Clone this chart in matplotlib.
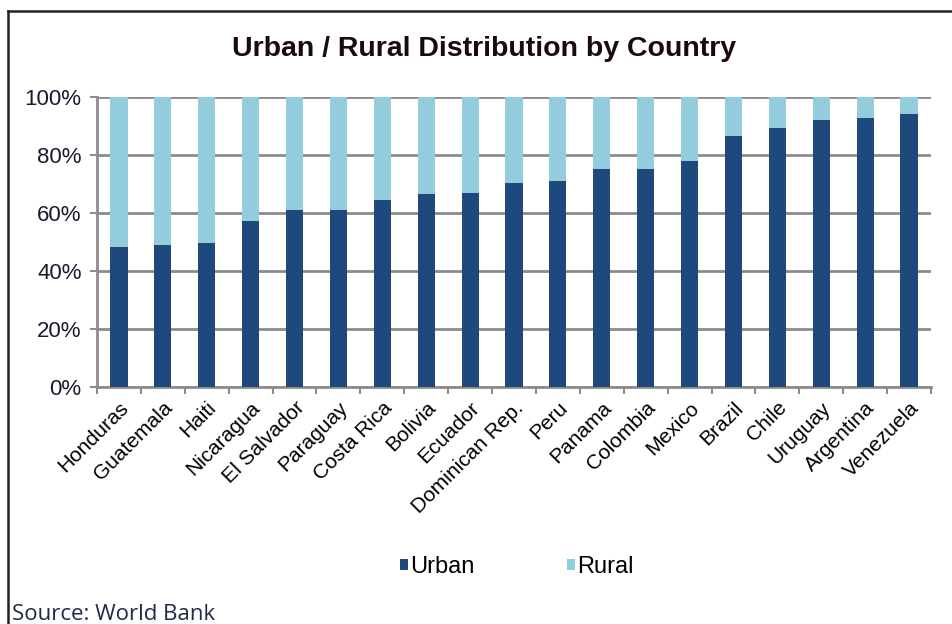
import matplotlib
matplotlib.use("Agg")
from matplotlib import pyplot as plt
from matplotlib.lines import Line2D
import numpy as np

# data (share of population, %)
countries = ["Honduras", "Guatemala", "Haiti", "Nicaragua", "El Salvador",
             "Paraguay", "Costa Rica", "Bolivia", "Ecuador", "Dominican Rep.",
             "Peru", "Panama", "Colombia", "Mexico", "Brazil", "Chile",
             "Uruguay", "Argentina", "Venezuela"]
urban = [48.4, 49.1, 49.7, 57.1, 61.0, 61.0, 64.4, 66.5, 67.0, 70.5,
         71.2, 75.1, 75.1, 77.9, 86.4, 89.3, 91.9, 92.6, 94.0]
rural = [100 - u for u in urban]

yticks = [0, 20, 40, 60, 80, 100]
ytick_labels = ["0%", "20%", "40%", "60%", "80%", "100%"]

URBAN_C = "#1F497D"
RURAL_C = "#93CDDD"
GRID_C = "#8C8C8C"

plt.rcParams['font.family'] = ['Liberation Sans', 'DejaVu Sans']

fig = plt.figure(figsize=(9.53, 6.24), dpi=100)
W, H = 953, 624

# plot area in pixels: left 97, right 931, top 97, bottom 387
ax = fig.add_axes([97 / W, 1 - 387 / H, (931 - 97) / W, (387 - 97) / H])

x = np.arange(len(countries))
ax.bar(x, urban, width=0.39, color=URBAN_C, label="Urban", zorder=3)
ax.bar(x, rural, width=0.39, bottom=urban, color=RURAL_C, label="Rural", zorder=3)

ax.set_xlim(-0.5, len(countries) - 0.5)
ax.set_ylim(0, 100)
ax.set_yticks(yticks)
ax.set_yticklabels(ytick_labels, fontsize=16, color="#1a1a2e")
ax.yaxis.grid(True, color=GRID_C, linewidth=2, zorder=0)
ax.set_axisbelow(True)

# category labels sit between boundary tick marks
ax.set_xticks(x)
ax.set_xticklabels(countries, rotation=45, ha="right", rotation_mode="anchor",
                   fontsize=15)
ax.tick_params(axis="x", length=0, pad=8)
ax.set_xticks(np.arange(-0.5, len(countries)), minor=True)
ax.tick_params(axis="x", which="minor", length=5, width=1.5, color=GRID_C)
ax.tick_params(axis="y", length=5, width=1.5, color=GRID_C, pad=6)

for s in ["top", "right"]:
    ax.spines[s].set_visible(False)
for s in ["left", "bottom"]:
    ax.spines[s].set_color(GRID_C)
    ax.spines[s].set_linewidth(2)

fig.text(484 / W, 1 - 49 / H, "Urban / Rural Distribution by Country",
         ha="center", va="center", fontsize=20.5, fontweight="bold", color="#1a0a0a")

fig.legend(loc="center", bbox_to_anchor=(517 / W, 1 - 567 / H), ncol=2,
           frameon=False, fontsize=17, handlelength=0.35, handleheight=0.35,
           handletextpad=0.1, columnspacing=3.9)

# chart frame (only left and top edges are visible in the crop)
fig.add_artist(Line2D([8 / W, 8 / W], [0, 1 - 11 / H], color="#222222", lw=1.8))
fig.add_artist(Line2D([8 / W, 1], [1 - 11 / H, 1 - 11 / H], color="#222222", lw=1.8))

fig.text(12 / W, 4 / H, "Source: World Bank", ha="left", va="baseline",
         fontsize=16, family=["Open Sans", "DejaVu Sans"], color="#1F2A44")

fig.savefig("out.png", dpi=100)
